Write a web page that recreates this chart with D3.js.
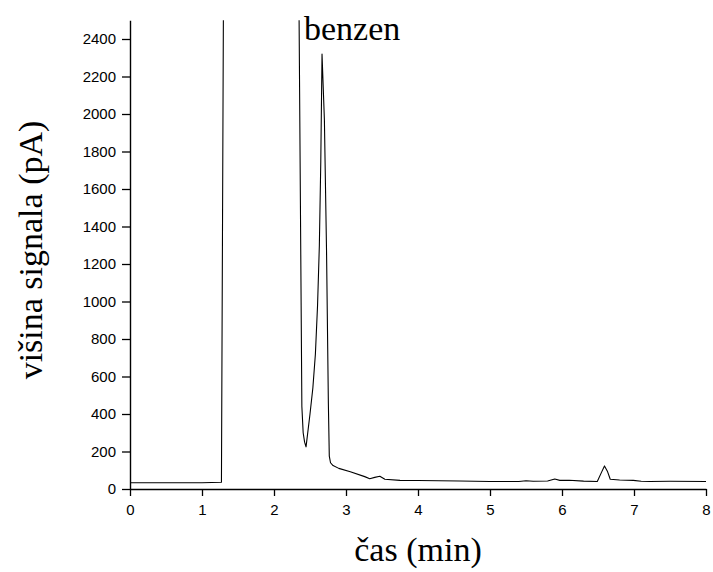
<!DOCTYPE html>
<html><head><meta charset="utf-8">
<script src="https://cdn.jsdelivr.net/npm/d3@7"></script>
<style>
body{margin:0;background:#fff;}
svg{display:block;}
</style></head>
<body>
<svg id="chart" width="713" height="572"></svg>
<script>
// time (min) and signal (pA)
const timeMin = [0, 0.5, 1.0, 1.27, 1.30, 2.343, 2.387, 2.405, 2.425, 2.445, 2.50, 2.54, 2.575, 2.605, 2.63, 2.65, 2.667, 2.70, 2.73, 2.755, 2.768, 2.785, 2.82, 2.90, 3.06, 3.26, 3.33, 3.40, 3.47, 3.54, 3.75, 4.0, 4.58, 5.0, 5.4, 5.5, 5.6, 5.8, 5.9, 5.97, 6.1, 6.3, 6.49, 6.55, 6.59, 6.63, 6.67, 6.8, 6.99, 7.1, 7.22, 7.5, 8.0];
const signal  = [33, 33, 33, 36, 2800, 2800, 440, 300, 250, 225, 400, 540, 720, 980, 1300, 1750, 2320, 1968, 1260, 459, 175, 140, 125, 110, 92, 66, 55, 62, 68, 52, 46, 45, 43, 40, 40, 44, 41, 43, 53, 46, 47, 42, 40, 90, 123, 95, 52, 48, 46, 41, 40, 41, 40];
const xMajorTicks = [0,1,2,3,4,5,6,7,8];
const xMinorTicks = [0.5,1.5,2.5,3.5,4.5,5.5,6.5,7.5];
const yMajorTicks = [0,200,400,600,800,1000,1200,1400,1600,1800,2000,2200,2400];
const yMinorTicks = [100,300,500,700,900,1100,1300,1500,1700,1900,2100,2300];
const xTitle = "čas (min)";
const yTitle = "višina signala (pA)";
const peakLabel = "benzen";

const svg = d3.select("#chart");
const m = {left:130, right:7, top:20.25, bottom:83};
const W = 713, H = 572;
const x = d3.scaleLinear().domain([0,8]).range([m.left, W-m.right]);
const y = d3.scaleLinear().domain([0,2500]).range([H-m.bottom, m.top]);

svg.append("clipPath").attr("id","clip").append("rect")
  .attr("x", m.left).attr("y", m.top).attr("width", W-m.right-m.left).attr("height", H-m.bottom-m.top);

const data = timeMin.map((t,i)=>({t, v:signal[i]}));
svg.append("path").datum(data)
  .attr("clip-path","url(#clip)")
  .attr("fill","none").attr("stroke","#000").attr("stroke-width",1.1)
  .attr("stroke-linejoin","round")
  .attr("d", d3.line().x(d=>x(d.t)).y(d=>y(d.v)));

const tickFont = "'Liberation Sans', Arial, sans-serif";
// x axis
const gx = svg.append("g").attr("transform",`translate(0,${y(0)})`);
gx.call(d3.axisBottom(x).tickValues(xMinorTicks).tickSize(4).tickSizeOuter(0).tickFormat(""));
gx.call(d3.axisBottom(x).tickValues(xMajorTicks).tickSize(7).tickSizeOuter(0).tickPadding(8).tickFormat(d3.format("d")));
// y axis
const gy = svg.append("g").attr("transform",`translate(${x(0)},0)`);
gy.call(d3.axisLeft(y).tickValues(yMinorTicks).tickSize(4).tickSizeOuter(0).tickFormat(""));
gy.call(d3.axisLeft(y).tickValues(yMajorTicks).tickSize(8).tickSizeOuter(0).tickPadding(6).tickFormat(d3.format("d")));

svg.selectAll(".domain").attr("stroke","#000").attr("stroke-width",1.4);
svg.selectAll(".tick line").attr("stroke","#000").attr("stroke-width",1.3);
svg.selectAll(".tick text").attr("font-family",tickFont).attr("font-size",15).attr("fill","#000");

const serif = "'Liberation Serif', 'Times New Roman', serif";
svg.append("text").attr("x", (x(0)+x(8))/2).attr("y", 561)
  .attr("text-anchor","middle").attr("font-family",serif).attr("font-size",34).text(xTitle);
svg.append("text").attr("transform",`translate(42,250) rotate(-90)`)
  .attr("text-anchor","middle").attr("font-family",serif).attr("font-size",34).text(yTitle);
svg.append("text").attr("x", 304).attr("y", 40)
  .attr("font-family",serif).attr("font-size",34).text(peakLabel);
</script>
</body></html>
